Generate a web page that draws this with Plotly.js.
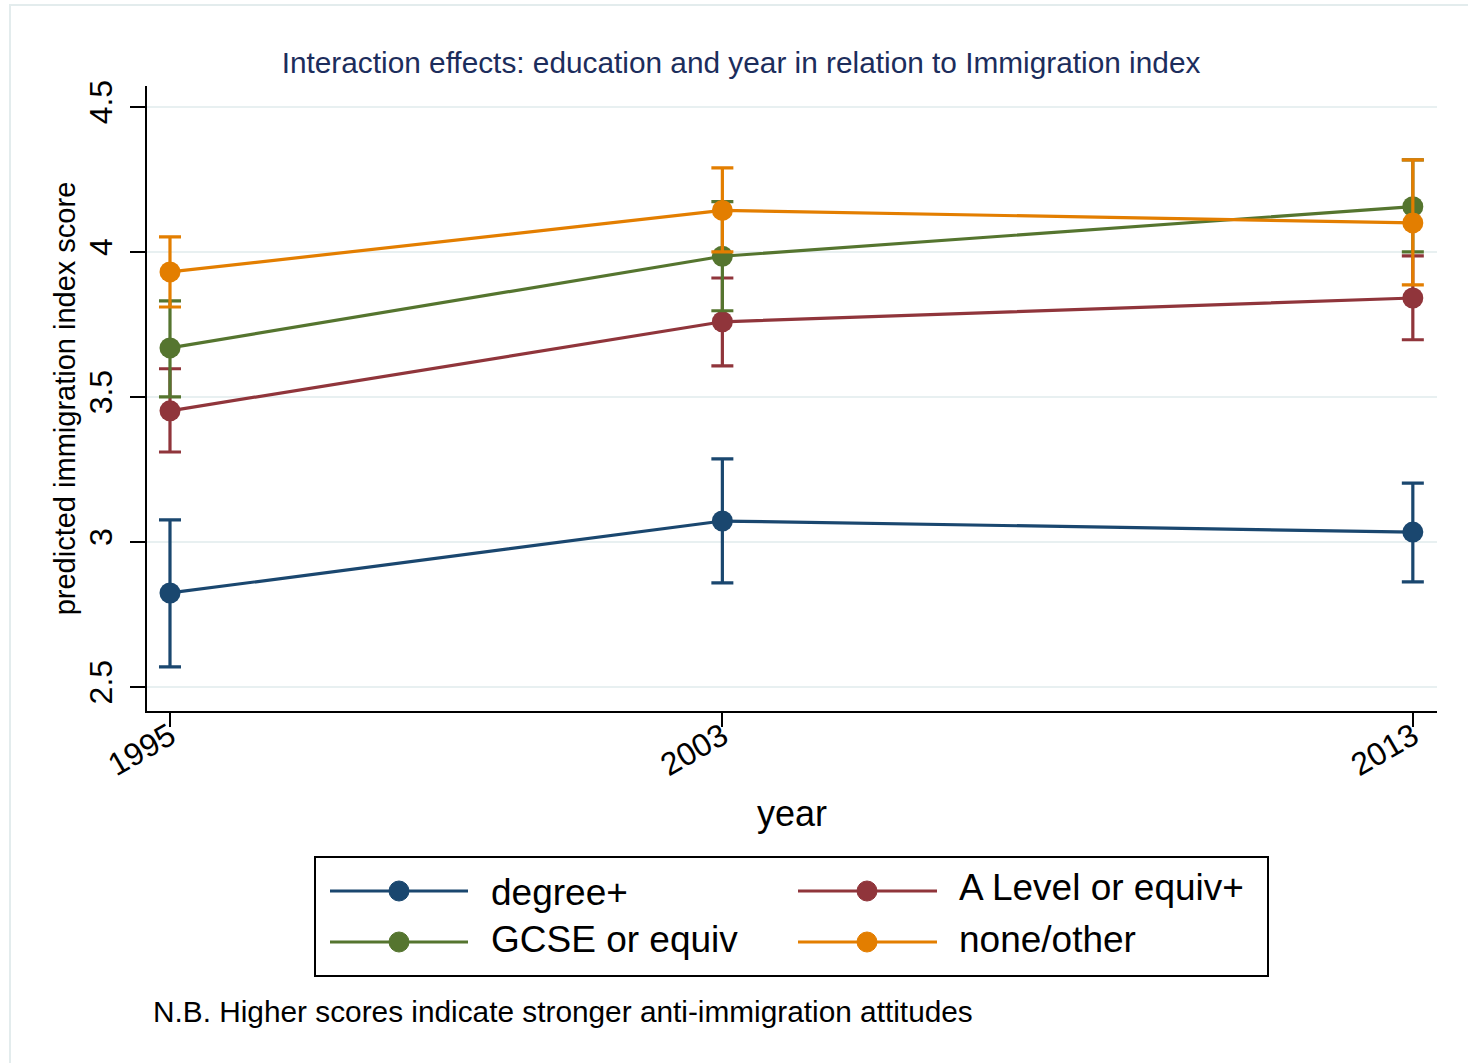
<!DOCTYPE html>
<html>
<head>
<meta charset="utf-8">
<script src="https://cdn.plot.ly/plotly-3.0.1.min.js"></script>
<style>html,body{margin:0;padding:0;background:#fff;}</style>
</head>
<body>
<div id="chart" style="width:1468px;height:1063px;"></div>
<script>
// ---- data ----
const years = [1995, 2003, 2013];
const seriesNames = ["degree+", "A Level or equiv+", "GCSE or equiv", "none/other"];
const degreeMean = [2.824, 3.072, 3.034];
const degreeLow  = [2.569, 2.859, 2.862];
const degreeHigh = [3.076, 3.286, 3.203];
const alevelMean = [3.452, 3.759, 3.841];
const alevelLow  = [3.310, 3.607, 3.697];
const alevelHigh = [3.597, 3.910, 3.986];
const gcseMean = [3.669, 3.985, 4.156];
const gcseLow  = [3.500, 3.797, 4.000];
const gcseHigh = [3.831, 4.173, 4.317];
const noneMean = [3.931, 4.143, 4.100];
const noneLow  = [3.810, 4.000, 3.886];
const noneHigh = [4.052, 4.290, 4.317];
const yTicks = [2.5, 3, 3.5, 4, 4.5];
const yTickText = ["2.5", "3", "3.5", "4", "4.5"];
const xTickText = ["1995", "2003", "2013"];

const colors = ["#1a476f", "#90353b", "#55752f", "#e37e00"];
const FONT = "Liberation Sans, Arial, Helvetica, sans-serif";

function mk(name, mean, lo, hi, color) {
  return {
    type: "scatter", mode: "lines+markers", name: name,
    x: years, y: mean,
    line: {color: color, width: 3.2},
    marker: {color: color, size: 21},
    error_y: {
      type: "data", symmetric: false,
      array: hi.map((v, i) => v - mean[i]),
      arrayminus: lo.map((v, i) => mean[i] - v),
      color: color, thickness: 3.2, width: 11
    },
    showlegend: false, hoverinfo: "x+y"
  };
}
const data = [
  mk(seriesNames[0], degreeMean, degreeLow, degreeHigh, colors[0]),
  mk(seriesNames[1], alevelMean, alevelLow, alevelHigh, colors[1]),
  mk(seriesNames[2], gcseMean, gcseLow, gcseHigh, colors[2]),
  mk(seriesNames[3], noneMean, noneLow, noneHigh, colors[3])
];

// plot-area pixel frame for placing decorations
const L = 147, R = 1437, T = 86, B = 711;
const px2x = p => (p - L) / (R - L);
const px2y = p => (B - p) / (B - T);

const shapes = [];
const annotations = [];
// outer graph-region frame
shapes.push({type: "rect", xref: "paper", yref: "paper",
  x0: px2x(10), x1: px2x(1480), y0: px2y(5), y1: px2y(1075),
  line: {color: "#e3eced", width: 2}, fillcolor: "rgba(0,0,0,0)", layer: "below"});
// legend box
shapes.push({type: "rect", xref: "paper", yref: "paper",
  x0: px2x(315), x1: px2x(1268), y0: px2y(857), y1: px2y(976),
  line: {color: "#000", width: 2}, fillcolor: "rgba(0,0,0,0)"});
const legPos = [
  {lx0: 330, lx1: 468, mx: 399, ly: 891, tx: 489, ty: 893},
  {lx0: 798, lx1: 937, mx: 867, ly: 891, tx: 957, ty: 887},
  {lx0: 330, lx1: 468, mx: 399, ly: 942, tx: 489, ty: 939},
  {lx0: 798, lx1: 937, mx: 867, ly: 942, tx: 957, ty: 939}
];
legPos.forEach((p, i) => {
  shapes.push({type: "line", xref: "paper", yref: "paper",
    x0: px2x(p.lx0), x1: px2x(p.lx1), y0: px2y(p.ly), y1: px2y(p.ly),
    line: {color: colors[i], width: 3.2}});
  shapes.push({type: "circle", xref: "paper", yref: "paper",
    x0: px2x(p.mx - 10), x1: px2x(p.mx + 10), y0: px2y(p.ly + 10), y1: px2y(p.ly - 10),
    line: {color: colors[i], width: 1}, fillcolor: colors[i]});
  annotations.push({xref: "paper", yref: "paper", x: px2x(p.tx), y: px2y(p.ty),
    xanchor: "left", yanchor: "middle", showarrow: false, text: seriesNames[i],
    font: {family: FONT, size: 37, color: "#000"}});
});
// note
annotations.push({xref: "paper", yref: "paper", x: px2x(151), y: px2y(1011),
  xanchor: "left", yanchor: "middle", showarrow: false,
  text: "N.B. Higher scores indicate stronger anti-immigration attitudes",
  font: {family: FONT, size: 29.8, color: "#000"}});

const layout = {
  width: 1468, height: 1063,
  paper_bgcolor: "#ffffff", plot_bgcolor: "#ffffff",
  margin: {l: L, r: 1468 - R, t: T, b: 1063 - B, pad: 0},
  font: {family: FONT, color: "#000"},
  title: {
    text: "Interaction effects: education and year in relation to Immigration index",
    font: {family: FONT, size: 29.8, color: "#1c2d5c"},
    x: 741 / 1468, xanchor: "center", xref: "container",
    y: 1 - 63 / 1063, yanchor: "middle", yref: "container"
  },
  xaxis: {
    range: [1994.667, 2013.35],
    tickvals: years, ticktext: xTickText, tickangle: -30,
    tickfont: {family: FONT, size: 32, color: "#000"},
    ticks: "outside", ticklen: 14, tickwidth: 2, tickcolor: "#000",
    ticklabelstandoff: -22,
    showline: true, linecolor: "#000", linewidth: 2,
    showgrid: false, zeroline: false,
    title: {text: "year", font: {family: FONT, size: 36, color: "#000"}, standoff: 19}
  },
  yaxis: {
    range: [2.417, 4.572],
    tickvals: yTicks, ticktext: yTickText, tickangle: -90,
    tickfont: {family: FONT, size: 32, color: "#000"},
    ticks: "outside", ticklen: 15, tickwidth: 2, tickcolor: "#000",
    ticklabelstandoff: 5,
    showline: true, linecolor: "#000", linewidth: 2,
    showgrid: true, gridcolor: "#e8f0f1", gridwidth: 2, zeroline: false,
    title: {text: "predicted immigration index score", font: {family: FONT, size: 29, color: "#000"}, standoff: -6}
  },
  shapes: shapes,
  annotations: annotations,
  showlegend: false
};

Plotly.newPlot("chart", data, layout, {displayModeBar: false, staticPlot: true});
</script>
</body>
</html>
